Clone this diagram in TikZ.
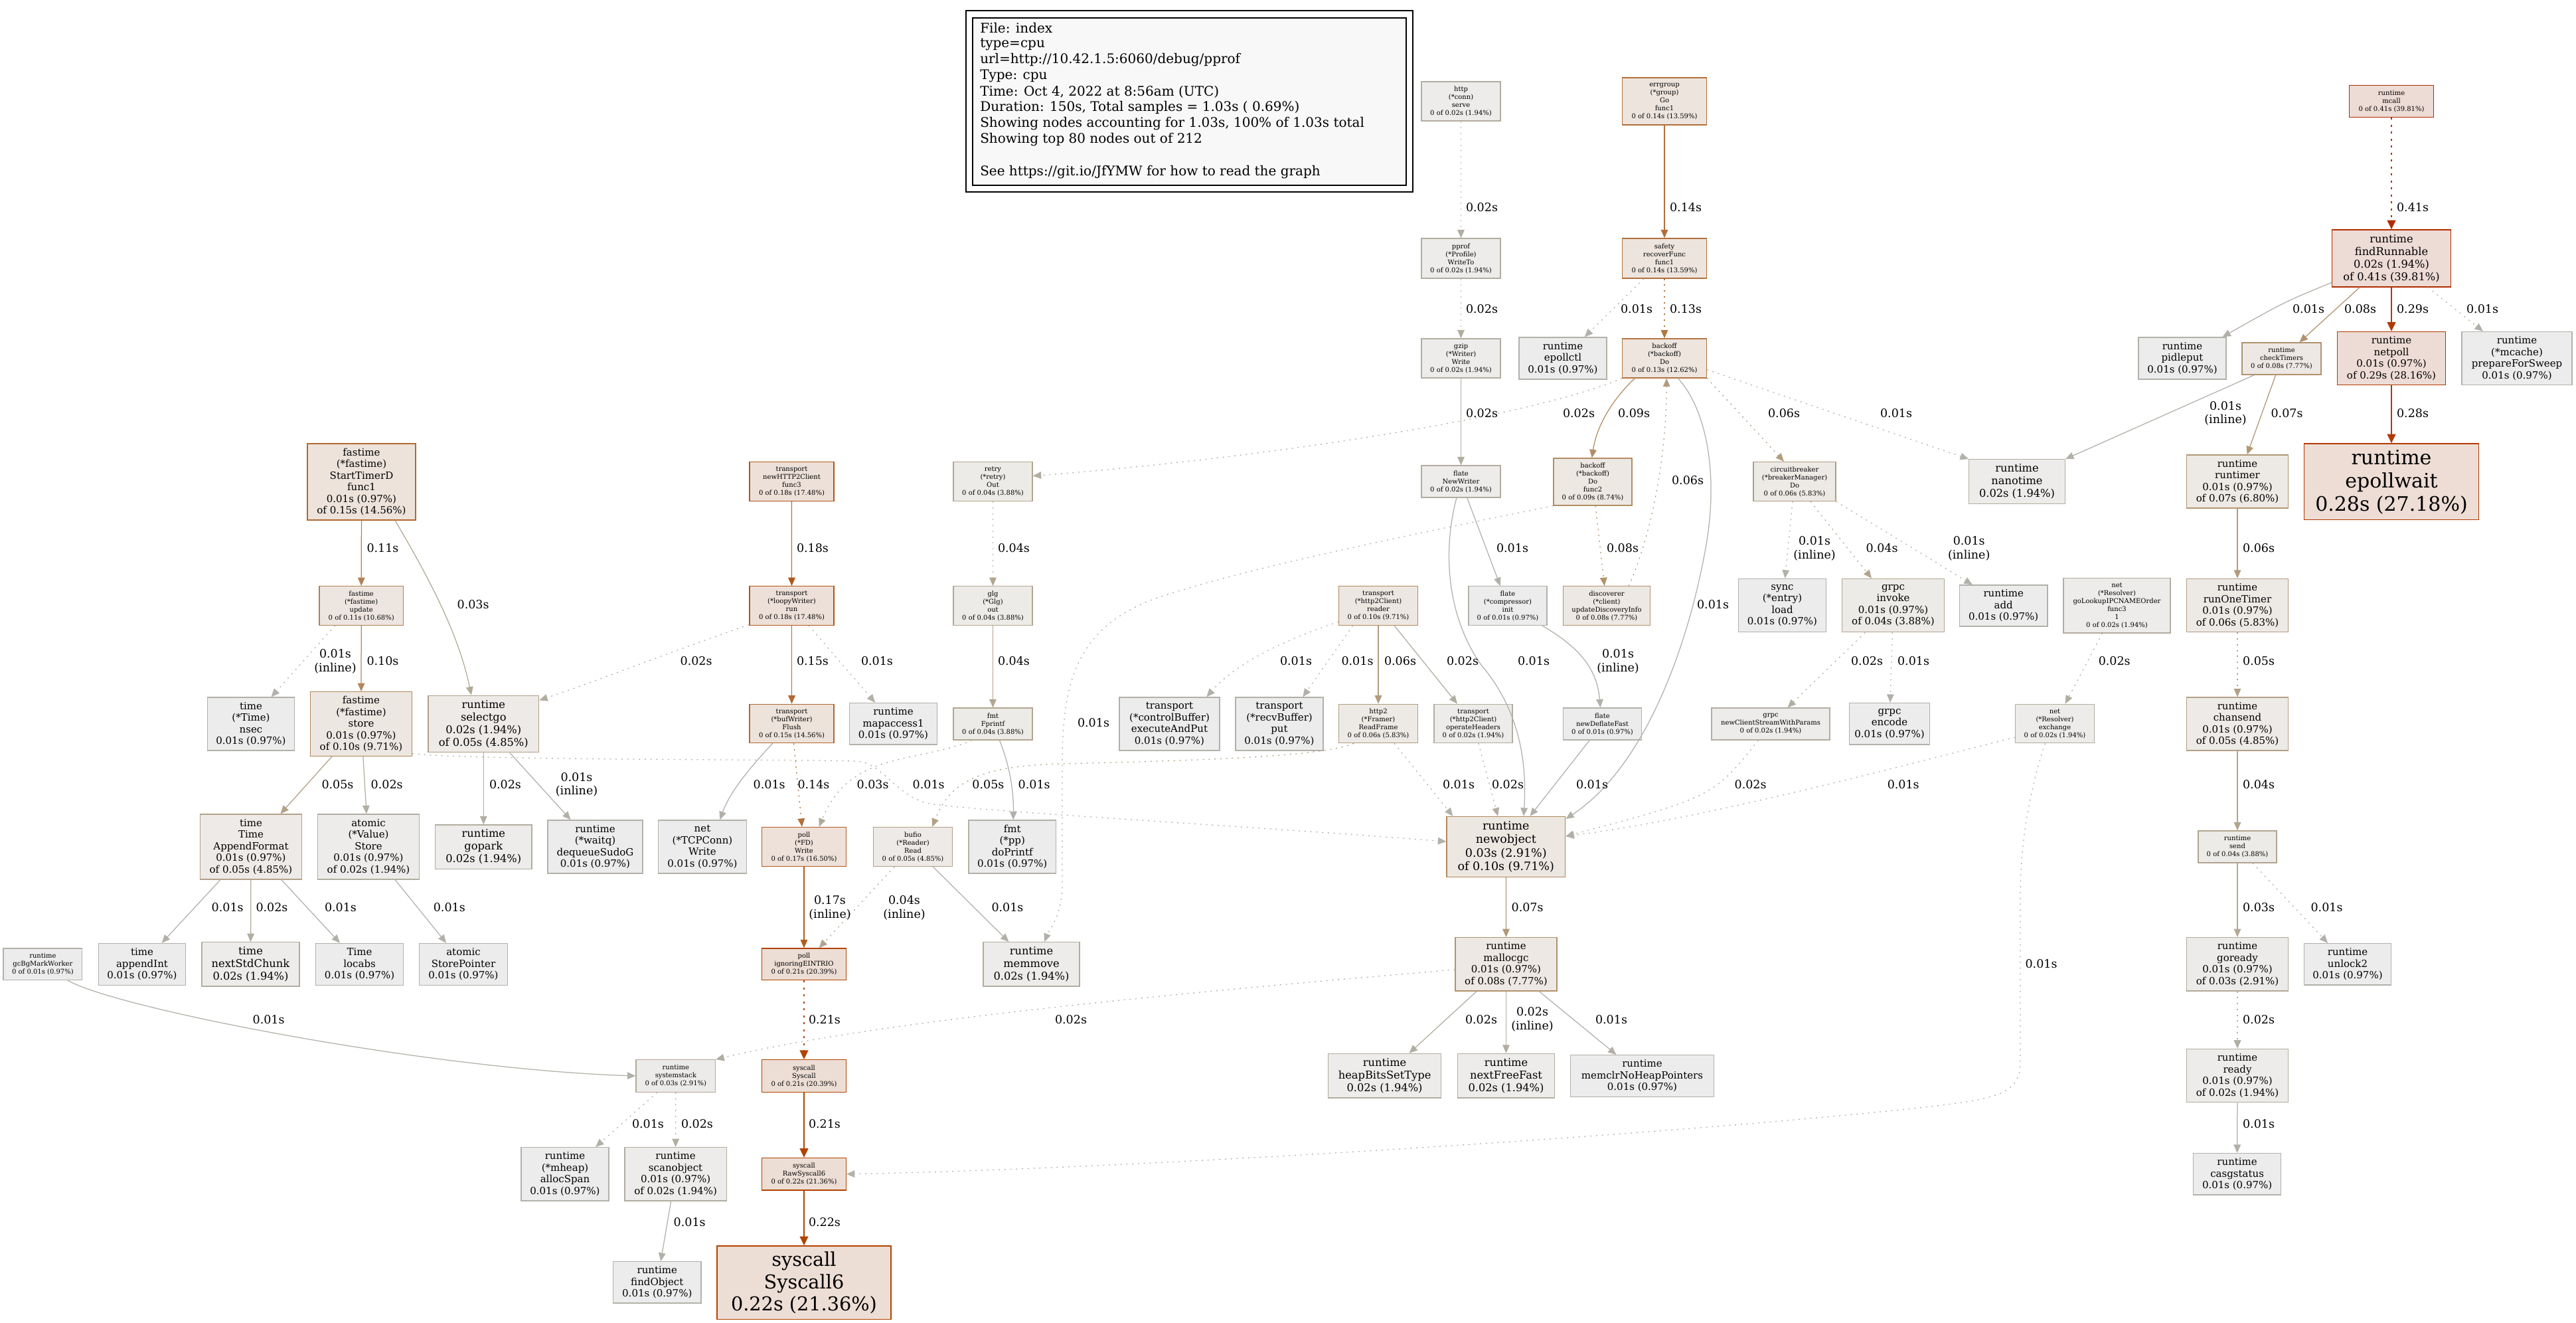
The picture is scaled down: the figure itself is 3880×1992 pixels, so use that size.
\documentclass[tikz,border=0pt]{standalone}
\usepackage{fontspec}
\setmainfont{DejaVu Serif}
\usetikzlibrary{arrows.meta}
\definecolor{e01}{HTML}{B2B0A9}\definecolor{e02}{HTML}{B2ADA1}\definecolor{e03}{HTML}{B2A998}
\definecolor{e04}{HTML}{B2A58F}\definecolor{e05}{HTML}{B2A187}\definecolor{e06}{HTML}{B29C7E}
\definecolor{e07}{HTML}{B29775}\definecolor{e08}{HTML}{B2926D}\definecolor{e09}{HTML}{B28D64}
\definecolor{e10}{HTML}{B2875B}\definecolor{e11}{HTML}{B28153}\definecolor{e13}{HTML}{B27641}
\definecolor{e14}{HTML}{B26F39}\definecolor{e15}{HTML}{B26930}\definecolor{e17}{HTML}{B25C1F}
\definecolor{e18}{HTML}{B25616}\definecolor{e21}{HTML}{B24300}\definecolor{e22}{HTML}{B24200}
\definecolor{e28}{HTML}{B23900}\definecolor{e29}{HTML}{B23800}\definecolor{e41}{HTML}{B22B00}
\definecolor{f01}{HTML}{EDECEC}\definecolor{f02}{HTML}{EDECEA}\definecolor{f03}{HTML}{EDEBE9}
\definecolor{f04}{HTML}{EDEBE8}\definecolor{f05}{HTML}{EDEAE7}\definecolor{f06}{HTML}{EDEAE6}
\definecolor{f07}{HTML}{EDE9E5}\definecolor{f08}{HTML}{EDE8E3}\definecolor{f09}{HTML}{EDE8E2}
\definecolor{f10}{HTML}{EDE7E1}\definecolor{f11}{HTML}{EDE6E0}\definecolor{f13}{HTML}{EDE5DE}
\definecolor{f14}{HTML}{EDE4DD}\definecolor{f15}{HTML}{EDE3DB}\definecolor{f17}{HTML}{EDE1D9}
\definecolor{f18}{HTML}{EDE0D8}\definecolor{f21}{HTML}{EDDED5}\definecolor{f22}{HTML}{EDDED5}
\definecolor{f28}{HTML}{EDDDD5}\definecolor{f29}{HTML}{EDDCD5}\definecolor{f41}{HTML}{EDDBD5}
\definecolor{legbg}{HTML}{F8F8F8}
\newcommand\pfA{\fontsize{8}{9.6}\selectfont}
\newcommand\pfB{\fontsize{12}{14}\selectfont}
\newcommand\pfC{\fontsize{13}{15.2}\selectfont}
\newcommand\pfD{\fontsize{14}{16.4}\selectfont}
\newcommand\pfE{\fontsize{23}{26.8}\selectfont}
\newcommand\pfF{\fontsize{24}{28}\selectfont}
\newcommand\pfL{\fontsize{14}{16.4}\selectfont}
\newcommand\pfG{\fontsize{16}{19.2}\selectfont}
\tikzset{
  nd/.style={rectangle,draw,line width=1pt,inner sep=0pt,align=center},
  sz/.style 2 args={minimum width=#1*0.8pt,minimum height=#2*0.8pt},
  cl/.style={draw=e#1,fill=f#1},
  lb/.style={font=\pfL,inner sep=0pt,align=center},
  lg/.style={font=\pfG,inner sep=0pt,anchor=west},
  ar/.style={-{Triangle[length=10pt,width=8.5pt]},line width=1pt},
  hv/.style={-{Triangle[length=11pt,width=10pt]},line width=2pt},
  dt/.style={dash pattern=on 1.6pt off 5.4pt},
  dth/.style={dash pattern=on 2.4pt off 6pt}}
\begin{document}
\begin{tikzpicture}[x=0.8pt,y=-0.8pt]
\fill[white] (0,0) rectangle (3880,1992);
\useasboundingbox (0,0) rectangle (3880,1992);
% legend
\node[rectangle,draw=black,line width=1pt,sz={673}{273}] (legout) at (1791.5,152.5) {};
\node[rectangle,draw=black,line width=1pt,fill=legbg,sz={653}{252}] (legin) at (1791.5,153) {};
\node[lg] (lg1) at (1476,42) {File: index};
\node[lg] (lg2) at (1476,66.5) {type=cpu};
\node[lg] (lg3) at (1476,90.6) {url=http://10.42.1.5:6060/debug/pprof};
\node[lg] (lg4) at (1476,114.7) {Type: cpu};
\node[lg] (lg5) at (1476,138.4) {Time: Oct 4, 2022 at 8:56am (UTC)};
\node[lg] (lg6) at (1476,162) {Duration: 150s, Total samples = 1.03s ( 0.69\%)};
\node[lg] (lg7) at (1476,186) {Showing nodes accounting for 1.03s, 100\% of 1.03s total};
\node[lg] (lg8) at (1476,210) {Showing top 80 nodes out of 212};
\node[lg] (lg9) at (1476,259) {See https://git.io/JfYMW for how to read the graph};
% nodes
\node[nd,sz={119}{59},cl=02,font=\pfA] (httpserve) at (2200.5,152.5) {http\\(*conn)\\serve\\0 of 0.02s (1.94\%)};
\node[nd,sz={126.5}{71},cl=14,font=\pfA] (errgroup) at (2507,152.5) {errgroup\\(*group)\\Go\\func1\\0 of 0.14s (13.59\%)};
\node[nd,sz={126.5}{48.2},cl=41,font=\pfA] (mcall) at (3602,152.7) {runtime\\mcall\\0 of 0.41s (39.81\%)};
\node[nd,sz={119}{60},cl=02,font=\pfA] (pprof) at (2200.5,389) {pprof\\(*Profile)\\WriteTo\\0 of 0.02s (1.94\%)};
\node[nd,sz={126.5}{60},cl=14,font=\pfA] (safety) at (2507,389) {safety\\recoverFunc\\func1\\0 of 0.14s (13.59\%)};
\node[nd,sz={178.5}{86},cl=41,font=\pfC] (findR) at (3602,389) {runtime\\findRunnable\\0.02s (1.94\%)\\of 0.41s (39.81\%)};
\node[nd,sz={119}{59},cl=02,font=\pfA] (gzip) at (2200.5,539.5) {gzip\\(*Writer)\\Write\\0 of 0.02s (1.94\%)};
\node[nd,sz={132}{63},cl=01,font=\pfB] (epollctl) at (2354,539.5) {runtime\\epollctl\\0.01s (0.97\%)};
\node[nd,sz={126.5}{59},cl=13,font=\pfA] (bkDo) at (2507,539.5) {backoff\\(*backoff)\\Do\\0 of 0.13s (12.62\%)};
\node[nd,sz={132}{63},cl=01,font=\pfB] (pidleput) at (3287,539.5) {runtime\\pidleput\\0.01s (0.97\%)};
\node[nd,sz={119}{48},cl=08,font=\pfA] (checkTimers) at (3436.5,540) {runtime\\checkTimers\\0 of 0.08s (7.77\%)};
\node[nd,sz={162.4}{80},cl=29,font=\pfB] (netpoll) at (3602,539.5) {runtime\\netpoll\\0.01s (0.97\%)\\of 0.29s (28.16\%)};
\node[nd,sz={166}{80},cl=01,font=\pfB] (pfs) at (3791,539.5) {runtime\\(*mcache)\\prepareForSweep\\0.01s (0.97\%)};
\node[nd,sz={163}{115},cl=15,font=\pfB] (std) at (544.5,725.5) {fastime\\(*fastime)\\StartTimerD\\func1\\0.01s (0.97\%)\\of 0.15s (14.56\%)};
\node[nd,sz={127}{59},cl=18,font=\pfA] (newHTTP2) at (1192.5,725) {transport\\newHTTP2Client\\func3\\0 of 0.18s (17.48\%)};
\node[nd,sz={119}{59},cl=04,font=\pfA] (retry) at (1495.5,725) {retry\\(*retry)\\Out\\0 of 0.04s (3.88\%)};
\node[nd,sz={119}{48},cl=02,font=\pfA] (flateNW) at (2200.5,725) {flate\\NewWriter\\0 of 0.02s (1.94\%)};
\node[nd,sz={118}{71},cl=09,font=\pfA] (func2) at (2399,725.5) {backoff\\(*backoff)\\Do\\func2\\0 of 0.09s (8.74\%)};
\node[nd,sz={124}{59},cl=06,font=\pfA] (circuit) at (2703,725) {circuitbreaker\\(*breakerManager)\\Do\\0 of 0.06s (5.83\%)};
\node[nd,sz={144.7}{66.5},cl=02,font=\pfC] (nanotime) at (3038,725) {runtime\\nanotime\\0.02s (1.94\%)};
\node[nd,sz={152.5}{80},cl=07,font=\pfB] (runtimer) at (3370,725) {runtime\\runtimer\\0.01s (0.97\%)\\of 0.07s (6.80\%)};
\node[nd,sz={262.5}{114.6},cl=28,font=\pfF] (epollwait) at (3602,725.3) {runtime\\epollwait\\0.28s (27.18\%)};
\node[nd,sz={126.5}{58.4},cl=11,font=\pfA] (update) at (544.2,912) {fastime\\(*fastime)\\update\\0 of 0.11s (10.68\%)};
\node[nd,sz={127}{58.4},cl=18,font=\pfA] (loopy) at (1192.5,912) {transport\\(*loopyWriter)\\run\\0 of 0.18s (17.48\%)};
\node[nd,sz={119}{58.4},cl=04,font=\pfA] (glg) at (1495.5,912) {glg\\(*Glg)\\out\\0 of 0.04s (3.88\%)};
\node[nd,sz={118.5}{58.4},cl=10,font=\pfA] (reader) at (2076,912) {transport\\(*http2Client)\\reader\\0 of 0.10s (9.71\%)};
\node[nd,sz={118}{58.4},cl=01,font=\pfA] (cinit) at (2271,912) {flate\\(*compressor)\\init\\0 of 0.01s (0.97\%)};
\node[nd,sz={131.5}{58.4},cl=08,font=\pfA] (disc) at (2420,912) {discoverer\\(*client)\\updateDiscoveryInfo\\0 of 0.08s (7.77\%)};
\node[nd,sz={131.5}{80.4},cl=01,font=\pfB] (syncload) at (2684.5,911.6) {sync\\(*entry)\\load\\0.01s (0.97\%)};
\node[nd,sz={154}{80.4},cl=04,font=\pfB] (invoke) at (2851.5,911.6) {grpc\\invoke\\0.01s (0.97\%)\\of 0.04s (3.88\%)};
\node[nd,sz={132.5}{62},cl=01,font=\pfB] (radd) at (3017.7,912) {runtime\\add\\0.01s (0.97\%)};
\node[nd,sz={161}{82.5},cl=02,font=\pfA] (goLookup) at (3188.5,911.7) {net\\(*Resolver)\\goLookupIPCNAMEOrder\\func3\\1\\0 of 0.02s (1.94\%)};
\node[nd,sz={152.5}{80.4},cl=06,font=\pfB] (runOneTimer) at (3370,911.6) {runtime\\runOneTimer\\0.01s (0.97\%)\\of 0.06s (5.83\%)};
\node[nd,sz={131.5}{80},cl=01,font=\pfB] (nsec) at (378,1090) {time\\(*Time)\\nsec\\0.01s (0.97\%)};
\node[nd,sz={153}{96.5},cl=10,font=\pfB] (store) at (544,1090) {fastime\\(*fastime)\\store\\0.01s (0.97\%)\\of 0.10s (9.71\%)};
\node[nd,sz={166.6}{85.6},cl=05,font=\pfC] (selectgo) at (728.3,1090) {runtime\\selectgo\\0.02s (1.94\%)\\of 0.05s (4.85\%)};
\node[nd,sz={127}{58.4},cl=15,font=\pfA] (flush) at (1192.5,1089.5) {transport\\(*bufWriter)\\Flush\\0 of 0.15s (14.56\%)};
\node[nd,sz={132.5}{62.5},cl=01,font=\pfB] (mapaccess) at (1345.5,1089.8) {runtime\\mapaccess1\\0.01s (0.97\%)};
\node[nd,sz={119}{48},cl=04,font=\pfA] (fprintf) at (1495.5,1090) {fmt\\Fprintf\\0 of 0.04s (3.88\%)};
\node[nd,sz={151}{80},cl=01,font=\pfB] (execPut) at (1761.5,1090) {transport\\(*controlBuffer)\\executeAndPut\\0.01s (0.97\%)};
\node[nd,sz={132}{80},cl=01,font=\pfB] (recvPut) at (1927,1090) {transport\\(*recvBuffer)\\put\\0.01s (0.97\%)};
\node[nd,sz={118.5}{58.4},cl=06,font=\pfA] (readFrame) at (2076,1089.5) {http2\\(*Framer)\\ReadFrame\\0 of 0.06s (5.83\%)};
\node[nd,sz={118}{58.4},cl=02,font=\pfA] (opHeaders) at (2219,1089.5) {transport\\(*http2Client)\\operateHeaders\\0 of 0.02s (1.94\%)};
\node[nd,sz={118}{48},cl=01,font=\pfA] (deflateFast) at (2413.5,1090) {flate\\newDeflateFast\\0 of 0.01s (0.97\%)};
\node[nd,sz={178}{48},cl=02,font=\pfA] (newCS) at (2667,1090) {grpc\\newClientStreamWithParams\\0 of 0.02s (1.94\%)};
\node[nd,sz={120.5}{62.5},cl=01,font=\pfB] (encode) at (2846,1089.8) {grpc\\encode\\0.01s (0.97\%)};
\node[nd,sz={118.5}{58.4},cl=02,font=\pfA] (exchange) at (3095,1089.5) {net\\(*Resolver)\\exchange\\0 of 0.02s (1.94\%)};
\node[nd,sz={152.5}{80},cl=05,font=\pfB] (chansend) at (3370,1090) {runtime\\chansend\\0.01s (0.97\%)\\of 0.05s (4.85\%)};
\node[nd,sz={153.7}{98},cl=05,font=\pfB] (appendFormat) at (378,1275) {time\\Time\\AppendFormat\\0.01s (0.97\%)\\of 0.05s (4.85\%)};
\node[nd,sz={153.6}{98},cl=02,font=\pfB] (vstore) at (555,1275) {atomic\\(*Value)\\Store\\0.01s (0.97\%)\\of 0.02s (1.94\%)};
\node[nd,sz={145.3}{66.5},cl=02,font=\pfC] (gopark) at (728.3,1275.2) {runtime\\gopark\\0.02s (1.94\%)};
\node[nd,sz={143}{80},cl=01,font=\pfB] (dequeue) at (896.5,1275) {runtime\\(*waitq)\\dequeueSudoG\\0.01s (0.97\%)};
\node[nd,sz={132.4}{80},cl=01,font=\pfB] (tcpWrite) at (1058,1275) {net\\(*TCPConn)\\Write\\0.01s (0.97\%)};
\node[nd,sz={126.5}{59},cl=17,font=\pfA] (fdWrite) at (1211,1275) {poll\\(*FD)\\Write\\0 of 0.17s (16.50\%)};
\node[nd,sz={118.6}{59},cl=05,font=\pfA] (bufRead) at (1375,1275) {bufio\\(*Reader)\\Read\\0 of 0.05s (4.85\%)};
\node[nd,sz={131.5}{80},cl=01,font=\pfB] (doPrintf) at (1524.7,1275) {fmt\\(*pp)\\doPrintf\\0.01s (0.97\%)};
\node[nd,sz={178.6}{91},cl=10,font=\pfD] (newobj) at (2268.3,1275) {runtime\\newobject\\0.03s (2.91\%)\\of 0.10s (9.71\%)};
\node[nd,sz={118}{48},cl=04,font=\pfA] (send) at (3370,1275) {runtime\\send\\0 of 0.04s (3.88\%)};
\node[nd,sz={118.7}{47.6},cl=01,font=\pfA] (gcBg) at (64.4,1451.8) {runtime\\gcBgMarkWorker\\0 of 0.01s (0.97\%)};
\node[nd,sz={131.6}{62.7},cl=01,font=\pfB] (appendInt) at (214,1451.8) {time\\appendInt\\0.01s (0.97\%)};
\node[nd,sz={147}{66.2},cl=02,font=\pfC] (nextStd) at (377.5,1451.9) {time\\nextStdChunk\\0.02s (1.94\%)};
\node[nd,sz={131.8}{62.7},cl=01,font=\pfB] (locabs) at (541.6,1451.8) {Time\\locabs\\0.01s (0.97\%)};
\node[nd,sz={132.4}{62.7},cl=01,font=\pfB] (storePtr) at (698,1451.8) {atomic\\StorePointer\\0.01s (0.97\%)};
\node[nd,sz={126.5}{47.6},cl=21,font=\pfA] (ignoring) at (1211,1451.8) {poll\\ignoringEINTRIO\\0 of 0.21s (20.39\%)};
\node[nd,sz={145}{66.2},cl=02,font=\pfC] (memmove) at (1553.5,1451.9) {runtime\\memmove\\0.02s (1.94\%)};
\node[nd,sz={153}{80.3},cl=08,font=\pfB] (mallocgc) at (2268.5,1451.8) {runtime\\mallocgc\\0.01s (0.97\%)\\of 0.08s (7.77\%)};
\node[nd,sz={152.5}{80.3},cl=03,font=\pfB] (goready) at (3370,1451.8) {runtime\\goready\\0.01s (0.97\%)\\of 0.03s (2.91\%)};
\node[nd,sz={131.5}{62.5},cl=01,font=\pfB] (unlock2) at (3536,1451.8) {runtime\\unlock2\\0.01s (0.97\%)};
\node[nd,sz={119.6}{48.5},cl=03,font=\pfA] (systemstack) at (1017.8,1620) {runtime\\systemstack\\0 of 0.03s (2.91\%)};
\node[nd,sz={126.5}{48.5},cl=21,font=\pfA] (syscallS) at (1211,1620) {syscall\\Syscall\\0 of 0.21s (20.39\%)};
\node[nd,sz={170}{66.6},cl=02,font=\pfC] (heapBits) at (2085.6,1619.7) {runtime\\heapBitsSetType\\0.02s (1.94\%)};
\node[nd,sz={146}{66.6},cl=02,font=\pfC] (nextFree) at (2268.5,1619.7) {runtime\\nextFreeFast\\0.02s (1.94\%)};
\node[nd,sz={216}{62.7},cl=01,font=\pfB] (memclr) at (2473.5,1620) {runtime\\memclrNoHeapPointers\\0.01s (0.97\%)};
\node[nd,sz={152.5}{80.4},cl=02,font=\pfB] (ready) at (3370,1619.5) {runtime\\ready\\0.01s (0.97\%)\\of 0.02s (1.94\%)};
\node[nd,sz={131.8}{80.3},cl=01,font=\pfB] (allocSpan) at (851,1767.8) {runtime\\(*mheap)\\allocSpan\\0.01s (0.97\%)};
\node[nd,sz={153.3}{80.3},cl=02,font=\pfB] (scanobject) at (1017.6,1767.8) {runtime\\scanobject\\0.01s (0.97\%)\\of 0.02s (1.94\%)};
\node[nd,sz={126.5}{48.5},cl=22,font=\pfA] (rawSys) at (1211,1767.8) {syscall\\RawSyscall6\\0 of 0.22s (21.36\%)};
\node[nd,sz={132.4}{62.5},cl=01,font=\pfB] (casgstatus) at (3369.6,1767.8) {runtime\\casgstatus\\0.01s (0.97\%)};
\node[nd,sz={132.4}{62.3},cl=01,font=\pfB] (findObject) at (989.8,1930.8) {runtime\\findObject\\0.01s (0.97\%)};
\node[nd,sz={262}{110.8},cl=22,font=\pfE] (syscall6) at (1211,1931.3) {syscall\\Syscall6\\0.22s (21.36\%)};
% edges
\draw[ar,e02,dt] (httpserve) -- (pprof);
\draw[ar,e02,dt] (pprof) -- (gzip);
\draw[ar,e02] (gzip) -- (flateNW);
\draw[ar,e14] (errgroup) -- (safety);
\draw[ar,e01,dt] (safety) -- (epollctl);
\draw[ar,e13,dt] (safety) -- (bkDo);
\draw[ar,e02,dt] (bkDo.south west) .. controls (2300,630) and (1900,690) .. (retry.8);
\draw[ar,e09] (bkDo.-146) .. controls (2430,600) and (2405,640) .. (func2.92);
\draw[ar,e06,dt] (bkDo.-25) -- (circuit.118);
\draw[ar,e01,dt] (bkDo.-15) -- (nanotime.north west);
\draw[ar,e01] (bkDo.-56) .. controls (2565,610) and (2590,700) .. (2570,820) .. controls (2540,990) and (2470,1160) .. (newobj.25);
\draw[ar,e06,dt] (disc.42) .. controls (2490,800) and (2510,680) .. (bkDo.-84);
\draw[ar,e08,dt] (func2) -- (disc);
\draw[ar,e01,dt] (func2.south west) .. controls (2150,800) and (1850,860) .. (1730,905) .. controls (1620,950) and (1600,1030) .. (1600,1150) -- (1600,1330) .. controls (1600,1380) and (1580,1400) .. (memmove.60);
\draw[ar,e01] (flateNW) -- (cinit);
\draw[ar,e01] (flateNW.-105) .. controls (2175,820) and (2175,920) .. (2230,1000) .. controls (2290,1070) and (2300,1150) .. (newobj.60);
\draw[ar,e01] (cinit.-30) .. controls (2370,970) and (2405,1000) .. (deflateFast.97);
\draw[ar,e01] (deflateFast) -- (newobj);
\draw[ar,e01,dt] (circuit) -- (syncload);
\draw[ar,e04,dt] (circuit) -- (invoke);
\draw[ar,e01,dt] (circuit.south east) -- (radd.146);
\draw[ar,e02,dt] (invoke) -- (newCS);
\draw[ar,e01,dt] (invoke) -- (encode);
\draw[ar,e02,dt] (newCS.-127) .. controls (2580,1200) .. (newobj.10);
\draw[ar,e01,dt] (exchange.199) .. controls (2800,1170) and (2550,1235) .. (newobj.10);
\draw[ar,e02,dt] (goLookup) -- (exchange);
\draw[ar,e01,dt] (exchange.-116) .. controls (3060,1180) and (3043,1260) .. (3043,1350) -- (3043,1600) .. controls (3043,1650) and (3000,1655) .. (2900,1667) .. controls (2500,1710) and (1700,1760) .. (rawSys.east);
\draw[hv,e41,dth] (mcall) -- (findR);
\draw[ar,e01] (findR.202) .. controls (3440,455) .. (pidleput.28);
\draw[ar,e08] (findR) -- (checkTimers);
\draw[hv,e29] (findR) -- (netpoll);
\draw[ar,e01,dt] (findR) -- (pfs);
\draw[ar,e01] (checkTimers.-149) -- (nanotime.north east);
\draw[ar,e07] (checkTimers) -- (runtimer);
\draw[hv,e28] (netpoll) -- (epollwait);
\draw[ar,e06] (runtimer) -- (runOneTimer);
\draw[ar,e05,dt] (runOneTimer) -- (chansend);
\draw[ar,e04] (chansend) -- (send);
\draw[ar,e03] (send) -- (goready);
\draw[ar,e01,dt] (send) -- (unlock2);
\draw[ar,e02,dt] (goready) -- (ready);
\draw[ar,e01] (ready) -- (casgstatus);
\draw[ar,e11] (std) -- (update);
\draw[ar,e03] (std.-49) .. controls (640,860) and (690,950) .. (selectgo.113);
\draw[ar,e01,dt] (update.-143) -- (nsec.53);
\draw[ar,e10] (update) -- (store);
\draw[ar,e05] (store) -- (appendFormat);
\draw[ar,e02] (store) -- (vstore);
\draw[ar,e01,dt] (store.-30) .. controls (700,1145) and (1200,1143) .. (1290,1146) .. controls (1330,1148) and (1350,1200) .. (1400,1210) .. controls (1450,1220) and (1900,1245) .. (newobj.175);
\draw[ar,e02,dt] (loopy.204) .. controls (1000,985) and (900,1025) .. (selectgo.23);
\draw[ar,e15] (loopy) -- (flush);
\draw[ar,e01,dt] (loopy) -- (mapaccess);
\draw[ar,e18] (newHTTP2) -- (loopy);
\draw[ar,e04,dt] (retry) -- (glg);
\draw[ar,e04] (glg) -- (fprintf);
\draw[ar,e01] (fprintf.-68) .. controls (1520,1150) and (1527,1190) .. (doPrintf.88);
\draw[ar,e03,dt] (fprintf.-142) .. controls (1380,1150) and (1280,1130) .. (fdWrite.53);
\draw[ar,e01] (flush.-134) .. controls (1135,1150) and (1100,1190) .. (tcpWrite.57);
\draw[ar,e14,dt] (flush) -- (fdWrite);
\draw[ar,e17] (fdWrite) -- (ignoring);
\draw[ar,e04,dt] (bufRead) -- (ignoring);
\draw[ar,e01] (bufRead) -- (memmove);
\draw[hv,e21,dth] (ignoring) -- (syscallS);
\draw[hv,e21] (syscallS) -- (rawSys);
\draw[hv,e22] (rawSys) -- (syscall6);
\draw[ar,e01,dt] (reader.202) .. controls (1930,965) and (1860,1000) .. (execPut.36);
\draw[ar,e01,dt] (reader.-142) -- (recvPut.49);
\draw[ar,e06] (reader) -- (readFrame);
\draw[ar,e02] (reader) -- (opHeaders);
\draw[ar,e01,dt] (readFrame) -- (newobj.150);
\draw[ar,e05,dt] (readFrame.-141) .. controls (1990,1140) and (1800,1145) .. (1600,1150) .. controls (1470,1153) and (1430,1180) .. (bufRead.46);
\draw[ar,e02,dt] (opHeaders) -- (newobj);
\draw[ar,e07] (newobj) -- (mallocgc);
\draw[ar,e02] (mallocgc) -- (heapBits);
\draw[ar,e02] (mallocgc) -- (nextFree);
\draw[ar,e01] (mallocgc) -- (memclr);
\draw[ar,e02,dt] (mallocgc.186) .. controls (1900,1485) and (1350,1530) .. (systemstack.north east);
\draw[ar,e01] (gcBg.-33) .. controls (180,1520) and (650,1610) .. (systemstack.west);
\draw[ar,e01,dt] (systemstack) -- (allocSpan);
\draw[ar,e02,dt] (systemstack) -- (scanobject);
\draw[ar,e01] (scanobject) -- (findObject);
\draw[ar,e01] (appendFormat) -- (appendInt);
\draw[ar,e02] (appendFormat) -- (nextStd);
\draw[ar,e01] (appendFormat) -- (locabs);
\draw[ar,e01] (vstore) -- (storePtr);
\draw[ar,e02] (selectgo) -- (gopark);
\draw[ar,e01] (selectgo) -- (dequeue);
% edge labels
\node[lb] (l1) at (2232,312) {0.02s};
\node[lb] (l2) at (2232,465) {0.02s};
\node[lb] (l3) at (2232,622) {0.02s};
\node[lb] (l4) at (2539,312) {0.14s};
\node[lb] (l5) at (2465,465) {0.01s};
\node[lb] (l6) at (2539,465) {0.13s};
\node[lb] (l7) at (2378,622) {0.02s};
\node[lb] (l8) at (2461,622) {0.09s};
\node[lb] (l9) at (2687,622) {0.06s};
\node[lb] (l10) at (2856,622) {0.01s};
\node[lb] (l11) at (2580,910) {0.01s};
\node[lb] (l12) at (2542,723) {0.06s};
\node[lb] (l13) at (2444,825.5) {0.08s};
\node[lb] (l14) at (1647,1088) {0.01s};
\node[lb] (l15) at (2278,825.5) {0.01s};
\node[lb] (l16) at (2310,995) {0.01s};
\node[lb] (l17) at (2437,995.8) {0.01s\\(inline)};
\node[lb] (l18) at (2398,1181) {0.01s};
\node[lb] (l19) at (2733,825.7) {0.01s\\(inline)};
\node[lb] (l20) at (2834.5,825.5) {0.04s};
\node[lb] (l21) at (2965.7,825.7) {0.01s\\(inline)};
\node[lb] (l22) at (2812,995) {0.02s};
\node[lb] (l23) at (2882,995) {0.01s};
\node[lb] (l24) at (2636.6,1181) {0.02s};
\node[lb] (l25) at (2866.7,1181) {0.01s};
\node[lb] (l26) at (3184.7,995) {0.02s};
\node[lb] (l27) at (3074.5,1451) {0.01s};
\node[lb] (l28) at (3634,312) {0.41s};
\node[lb] (l29) at (3477,465) {0.01s};
\node[lb] (l30) at (3555,465) {0.08s};
\node[lb] (l31) at (3634,465) {0.29s};
\node[lb] (l32) at (3739,465) {0.01s};
\node[lb] (l33) at (3352,622.5) {0.01s\\(inline)};
\node[lb] (l34) at (3444.5,622) {0.07s};
\node[lb] (l35) at (3634,622) {0.28s};
\node[lb] (l36) at (3402,825.5) {0.06s};
\node[lb] (l37) at (3402,995) {0.05s};
\node[lb] (l38) at (3402,1181) {0.04s};
\node[lb] (l39) at (3402,1366.6) {0.03s};
\node[lb] (l40) at (3504.5,1366.6) {0.01s};
\node[lb] (l41) at (3402,1534.8) {0.02s};
\node[lb] (l42) at (3402,1691.9) {0.01s};
\node[lb] (l43) at (576.5,825.5) {0.11s};
\node[lb] (l44) at (712.6,910) {0.03s};
\node[lb] (l45) at (505,995.8) {0.01s\\(inline)};
\node[lb] (l46) at (576.5,995) {0.10s};
\node[lb] (l47) at (508.5,1181) {0.05s};
\node[lb] (l48) at (582.7,1181) {0.02s};
\node[lb] (l49) at (1398.7,1181) {0.01s};
\node[lb] (l50) at (1048.6,995) {0.02s};
\node[lb] (l51) at (1224,995) {0.15s};
\node[lb] (l52) at (1321,995) {0.01s};
\node[lb] (l53) at (1224,825.5) {0.18s};
\node[lb] (l54) at (1527,825.5) {0.04s};
\node[lb] (l55) at (1527,995) {0.04s};
\node[lb] (l56) at (1557.7,1181) {0.01s};
\node[lb] (l57) at (1314.6,1181) {0.03s};
\node[lb] (l58) at (1158.7,1181) {0.01s};
\node[lb] (l59) at (1225.5,1181) {0.14s};
\node[lb] (l60) at (1250,1366.7) {0.17s\\(inline)};
\node[lb] (l61) at (1362,1366.7) {0.04s\\(inline)};
\node[lb] (l62) at (1517.5,1366.6) {0.01s};
\node[lb] (l63) at (1242,1534.8) {0.21s};
\node[lb] (l64) at (1242,1691.9) {0.21s};
\node[lb] (l65) at (1242,1840.6) {0.22s};
\node[lb] (l66) at (1952,995) {0.01s};
\node[lb] (l67) at (2044.5,995) {0.01s};
\node[lb] (l68) at (2109,995) {0.06s};
\node[lb] (l69) at (2203,995) {0.02s};
\node[lb] (l70) at (2197,1181) {0.01s};
\node[lb] (l71) at (1488.4,1181) {0.05s};
\node[lb] (l72) at (2271,1181) {0.02s};
\node[lb] (l73) at (2300.6,1366.6) {0.07s};
\node[lb] (l74) at (2231,1534.8) {0.02s};
\node[lb] (l75) at (2308,1534.8) {0.02s\\(inline)};
\node[lb] (l76) at (2427,1534.8) {0.01s};
\node[lb] (l77) at (1613,1534.8) {0.02s};
\node[lb] (l78) at (404.6,1534.8) {0.01s};
\node[lb] (l79) at (976,1691.9) {0.01s};
\node[lb] (l80) at (1050,1691.9) {0.02s};
\node[lb] (l81) at (1038.7,1840.6) {0.01s};
\node[lb] (l82) at (342.7,1366.6) {0.01s};
\node[lb] (l83) at (409.5,1366.6) {0.02s};
\node[lb] (l84) at (513,1366.6) {0.01s};
\node[lb] (l85) at (676.8,1366.6) {0.01s};
\node[lb] (l86) at (761,1181) {0.02s};
\node[lb] (l87) at (868.5,1181.5) {0.01s\\(inline)};
\end{tikzpicture}
\end{document}
